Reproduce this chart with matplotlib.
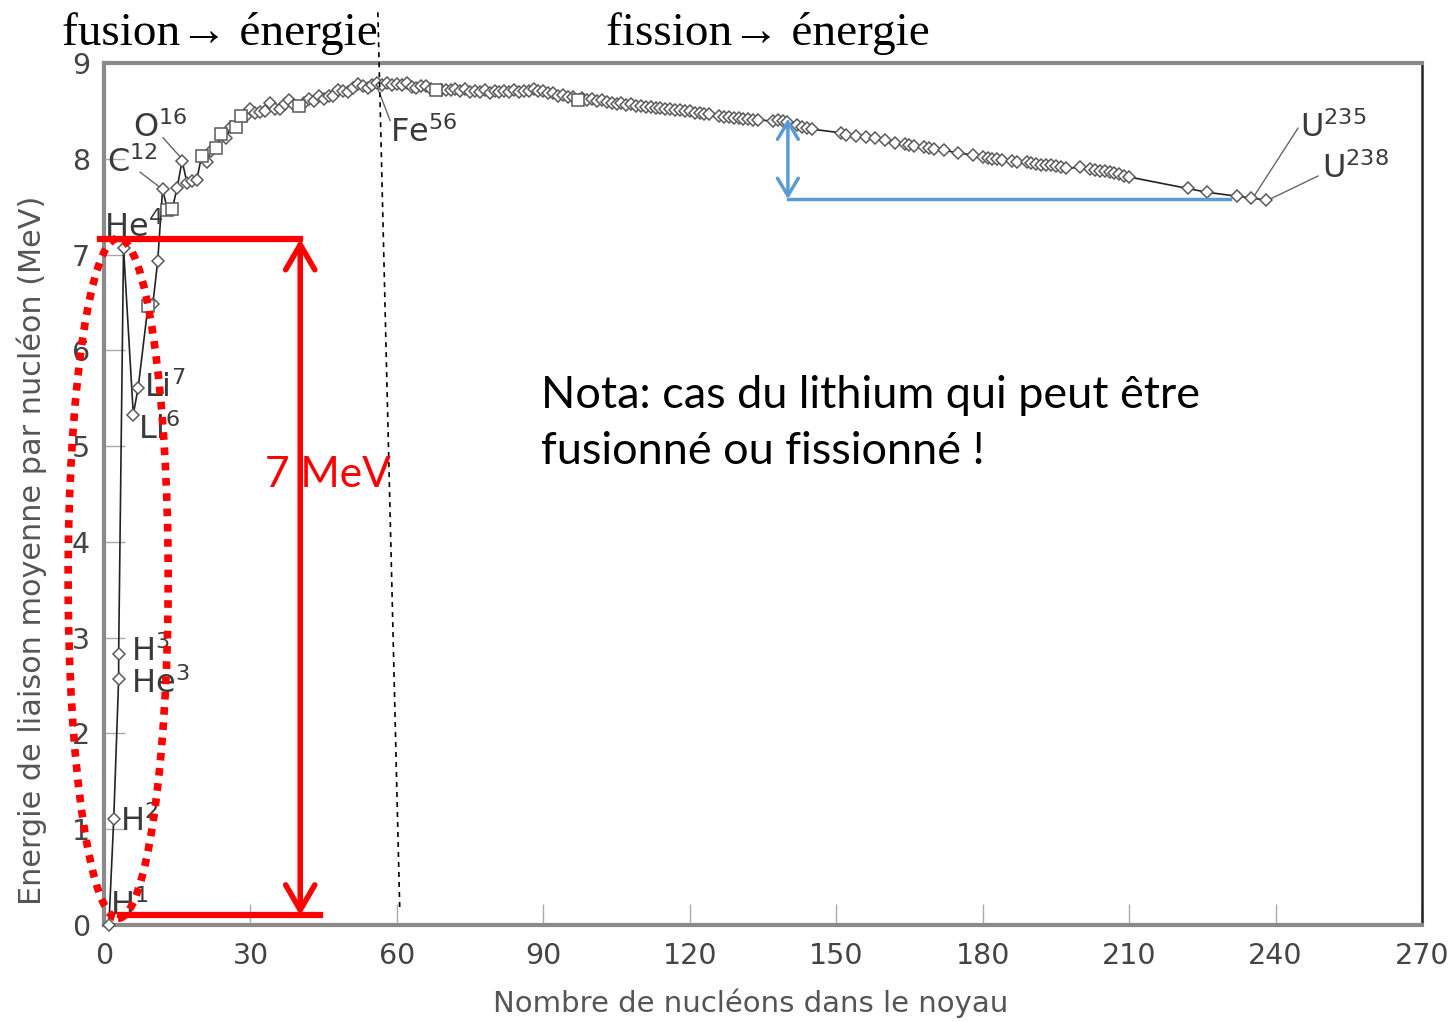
import matplotlib.pyplot as plt
from matplotlib.patches import Ellipse

# Mass number A and average binding energy per nucleon (MeV)
mass_number = [1, 2, 3, 3, 4, 6, 7, 9, 10, 11, 12, 13, 14, 15, 16, 17, 18, 19,
               20, 21, 22, 23, 24, 25, 26, 27, 28, 29, 30, 31, 32, 33, 34, 35,
               36, 37, 38, 39, 40, 41, 42, 43, 44, 45, 46, 47, 48, 49, 50, 51,
               52, 53, 54, 55, 56, 57, 58, 59, 60, 61, 62, 63, 64, 65, 66, 67,
               68, 69, 70, 71, 72, 73, 74, 75, 76, 77, 78, 79, 80, 81, 82, 83,
               84, 85, 86, 87, 88, 89, 90, 91, 92, 93, 94, 95, 96, 97, 98, 99,
               100, 101, 102, 103, 104, 105, 106, 107, 108, 109, 110, 111, 112,
               113, 114, 115, 116, 117, 118, 119, 120, 121, 122, 123, 124, 126,
               127, 128, 129, 130, 131, 132, 133, 134, 137, 138, 139, 140, 142,
               143, 144, 145, 151, 152, 154, 156, 158, 160, 162, 164, 165, 166,
               168, 169, 170, 172, 175, 178, 180, 181, 182, 183, 184, 186, 187,
               189, 190, 191, 192, 193, 194, 195, 196, 197, 200, 202, 203, 204,
               205, 206, 207, 208, 209, 210, 222, 226, 232, 235, 238]
binding_energy = [0.00, 1.11, 2.57, 2.83, 7.07, 5.33, 5.61, 6.46, 6.48, 6.93, 7.68,
                  7.47, 7.48, 7.70, 7.98, 7.75, 7.77, 7.78, 8.03, 7.97, 8.08, 8.11,
                  8.26, 8.22, 8.33, 8.33, 8.45, 8.45, 8.52, 8.48, 8.49, 8.50, 8.58,
                  8.52, 8.52, 8.57, 8.61, 8.56, 8.55, 8.58, 8.62, 8.60, 8.66, 8.62,
                  8.66, 8.66, 8.72, 8.71, 8.70, 8.74, 8.78, 8.76, 8.74, 8.77, 8.79,
                  8.77, 8.79, 8.77, 8.78, 8.77, 8.79, 8.75, 8.74, 8.76, 8.76, 8.73,
                  8.72, 8.72, 8.72, 8.72, 8.73, 8.71, 8.73, 8.70, 8.71, 8.70, 8.72,
                  8.69, 8.71, 8.70, 8.71, 8.70, 8.72, 8.70, 8.71, 8.71, 8.73, 8.71,
                  8.71, 8.69, 8.69, 8.66, 8.67, 8.65, 8.65, 8.61, 8.63, 8.61, 8.62,
                  8.60, 8.61, 8.59, 8.58, 8.57, 8.58, 8.56, 8.57, 8.55, 8.55, 8.54,
                  8.54, 8.53, 8.53, 8.52, 8.52, 8.51, 8.51, 8.50, 8.50, 8.48, 8.48,
                  8.47, 8.47, 8.45, 8.44, 8.44, 8.43, 8.43, 8.42, 8.42, 8.41, 8.41,
                  8.39, 8.40, 8.39, 8.38, 8.35, 8.33, 8.32, 8.31, 8.27, 8.25, 8.24,
                  8.23, 8.22, 8.20, 8.16, 8.15, 8.14, 8.13, 8.12, 8.11, 8.10, 8.09,
                  8.06, 8.04, 8.02, 8.01, 8.00, 8.00, 7.99, 7.98, 7.97, 7.97, 7.96,
                  7.95, 7.94, 7.93, 7.93, 7.92, 7.91, 7.90, 7.91, 7.89, 7.88, 7.87,
                  7.87, 7.86, 7.85, 7.84, 7.82, 7.81, 7.69, 7.65, 7.61, 7.59, 7.57]
# nuclides drawn with a square marker instead of a diamond
square_nuclides = [9, 13, 14, 20, 23, 24, 27, 28, 40, 68, 97]

# named nuclides: (label, text position A, text position MeV)
nuclide_labels = [("H$^{1}$", 1.3, 0.20), ("H$^{2}$", 3.3, 1.08),
                  ("H$^{3}$", 5.5, 2.85), ("He$^{3}$", 5.5, 2.52),
                  ("He$^{4}$", 0.0, 7.28), ("Li$^{7}$", 8.2, 5.61),
                  ("Li$^{6}$", 7.0, 5.17), ("C$^{12}$", 0.6, 7.96),
                  ("O$^{16}$", 5.9, 8.32), ("Fe$^{56}$", 58.6, 8.27),
                  ("U$^{235}$", 245.0, 8.33), ("U$^{238}$", 249.5, 7.90)]
# leader lines: (A from, MeV from, A to, MeV to)
leader_lines = [(7.4, 7.86, 11.5, 7.70), (12.1, 8.22, 15.6, 8.02),
                (55.9, 8.76, 58.6, 8.40), (235.6, 7.61, 244.6, 8.32),
                (238.9, 7.58, 248.7, 7.82)]

fig = plt.figure(figsize=(14.54, 10.22), dpi=100)
ax = fig.add_axes([104 / 1454, 97 / 1022, 1318 / 1454, 862 / 1022])

# curve and markers
ax.plot(mass_number, binding_energy, color='#222222', lw=1.2, zorder=3)
diam_a = [a for a in mass_number if a not in square_nuclides]
diam_e = [e for a, e in zip(mass_number, binding_energy) if a not in square_nuclides]
sq_a = [a for a in mass_number if a in square_nuclides]
sq_e = [e for a, e in zip(mass_number, binding_energy) if a in square_nuclides]
ax.plot(diam_a, diam_e, 'D', ms=6.5, mfc='white', mec='#5a5a5a', mew=1.1, zorder=4, clip_on=False)
ax.plot(sq_a, sq_e, 's', ms=8, mfc='white', mec='#5a5a5a', mew=1.1, zorder=4, clip_on=False)

for label, a, e in nuclide_labels:
    ax.text(a, e, label, fontsize=23, color='#3a3a3a', ha='left', va='center', zorder=5)
for a0, e0, a1, e1 in leader_lines:
    ax.plot([a0, a1], [e0, e1], color='#666666', lw=1, zorder=3)

# axes look
ax.set_xlim(0, 270)
ax.set_ylim(0, 9)
ax.set_xticks(range(0, 271, 30))
ax.set_yticks(range(0, 10))
ax.tick_params(direction='in', length=15, width=1, color='#aaaaaa',
               labelsize=20.5, labelcolor='#444444')
ax.tick_params(axis='x', pad=12)
ax.tick_params(axis='y', pad=10)
for side in ['left', 'top', 'bottom']:
    ax.spines[side].set_color('#8a8a8a')
    ax.spines[side].set_linewidth(3)
ax.spines['right'].set_color('#222222')
ax.spines['right'].set_linewidth(1.8)

fig.text(32 / 1454, 1 - 550 / 1022, 'Energie de liaison moyenne par nucléon (MeV)',
         rotation=90, ha='center', va='center', fontsize=21.8, color='#555555')
fig.text(751 / 1454, 1 - 1003 / 1022, 'Nombre de nucléons dans le noyau',
         ha='center', va='center', fontsize=21, color='#555555')

# dashed line at iron
ax.plot([56.1, 60.6], [9.53, 0.14], color='black', lw=1.2, ls=(0, (3, 3)),
        clip_on=False, zorder=6)

# red annotations (fusion)
ax.plot([-0.8, 40.2], [7.16, 7.16], color='red', lw=4.5, clip_on=False, zorder=7)
ax.plot([3.3, 44.3], [0.10, 0.10], color='red', lw=4.5, clip_on=False, zorder=7)
ax.annotate('', xy=(40.2, 7.16), xytext=(40.2, 0.10),
            arrowprops=dict(arrowstyle='<->,head_length=0.6,head_width=0.35',
                            color='red', lw=4, shrinkA=0, shrinkB=0, mutation_scale=30),
            zorder=7)
ax.add_patch(Ellipse((2.9, 3.62), width=20.5, height=7.1, fill=False,
                     edgecolor='red', lw=5.5, ls=(0, (1, 1)), clip_on=False, zorder=8))
fig.text(265 / 1454, 1 - 487 / 1022, '7 MeV', color='red', fontsize=30.5,
         family='Lato', va='baseline', ha='left', zorder=9)

# blue annotations (fission)
ax.plot([140.1, 230.7], [7.58, 7.58], color='#5b9bd5', lw=2.5, zorder=7)
ax.annotate('', xy=(140.1, 8.42), xytext=(140.1, 7.58),
            arrowprops=dict(arrowstyle='<->,head_length=0.5,head_width=0.3',
                            color='#5b9bd5', lw=2.5, shrinkA=0, shrinkB=0, mutation_scale=25),
            zorder=7)

# titles and note
fig.text(62 / 1454, 1 - 45 / 1022, 'fusion→ énergie', fontsize=34,
         family=['Liberation Serif', 'DejaVu Serif'], va='baseline', ha='left')
fig.text(606 / 1454, 1 - 45 / 1022, 'fission→ énergie', fontsize=34,
         family=['Liberation Serif', 'DejaVu Serif'], va='baseline', ha='left')
fig.text(541 / 1454, 1 - 408 / 1022, 'Nota: cas du lithium qui peut être',
         fontsize=32.4, family='Lato', va='baseline', ha='left')
fig.text(541 / 1454, 1 - 464 / 1022, 'fusionné ou fissionné !',
         fontsize=32.4, family='Lato', va='baseline', ha='left')

plt.savefig('out.png', dpi=100)
